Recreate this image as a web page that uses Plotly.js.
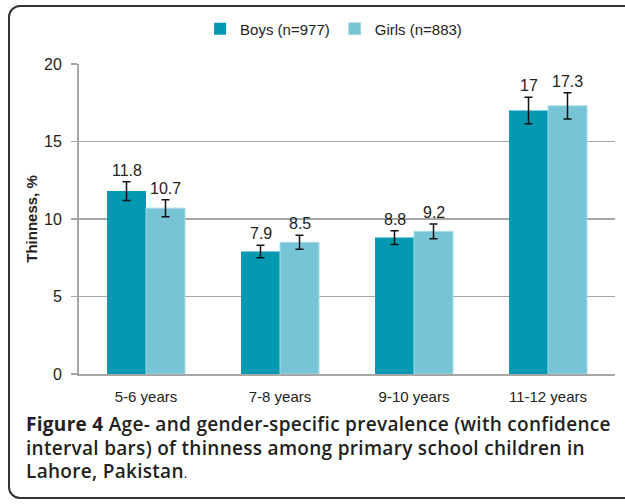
<!DOCTYPE html>
<html>
<head>
<meta charset="utf-8">
<script src="https://cdn.plot.ly/plotly-3.0.1.min.js"></script>
<style>
  html, body { margin: 0; padding: 0; background: #fff; overflow: hidden; }
  #wrap { position: relative; width: 625px; height: 504px; }
  #frame { position: absolute; left: 8px; top: 5px; width: 640px; height: 494px;
           border: 2px solid #333; border-radius: 12px; box-sizing: border-box; }
  #chart { position: absolute; left: 0; top: 0; width: 625px; height: 504px; }
  #caption { position: absolute; left: 26px; top: 413px; width: 600px;
             font-family: "Open Sans", "Noto Sans", sans-serif; font-size: 19px; font-weight: 600;
             line-height: 23.5px; letter-spacing: 0.3px; color: #231f20; white-space: nowrap; }
  #caption b { font-weight: 700; }
  #caption .dot { font-size: 13px; font-weight: 400; }
</style>
</head>
<body>
<div id="wrap">
  <div id="frame"></div>
  <div id="chart"></div>
  <div id="caption"><b>Figure 4</b> Age- and gender-specific prevalence (with confidence<br>interval bars) of thinness among primary school children in<br>Lahore, Pakistan<span class="dot">.</span></div>
</div>
<script>
const categories = ["5-6 years", "7-8 years", "9-10 years", "11-12 years"];
const boysName = "Boys (n=977)";
const girlsName = "Girls (n=883)";
const boysValues = [11.8, 7.9, 8.8, 17];
const girlsValues = [10.7, 8.5, 9.2, 17.3];
const boysCI = [0.6, 0.4, 0.45, 0.85];
const girlsCI = [0.55, 0.45, 0.47, 0.85];
const yTicks = [0, 5, 10, 15, 20];

const sans = '"Liberation Sans", Arial, sans-serif';
const boysColor = '#0399b1';
const girlsColor = '#78c4d7';

const errStyle = { type: 'data', visible: true, color: '#111', thickness: 1.5, width: 4 };

const traces = [
  { type: 'bar', name: boysName, x: categories, y: boysValues,
    marker: { color: boysColor, line: { color: boysColor, width: 0 } },
    error_y: Object.assign({ array: boysCI }, errStyle), hoverinfo: 'y' },
  { type: 'bar', name: girlsName, x: categories, y: girlsValues,
    marker: { color: girlsColor, line: { color: '#a6dbe8', width: 1 } },
    error_y: Object.assign({ array: girlsCI }, errStyle), hoverinfo: 'y' }
];

const annotations = [];
const half = 19.5;
categories.forEach((c, i) => {
  annotations.push({ x: c, y: boysValues[i] + boysCI[i], xref: 'x', yref: 'y',
    text: String(boysValues[i]), showarrow: false, yanchor: 'bottom', xshift: -half, yshift: 1,
    font: { family: sans, size: 16, color: '#222' } });
  annotations.push({ x: c, y: girlsValues[i] + girlsCI[i], xref: 'x', yref: 'y',
    text: String(girlsValues[i]), showarrow: false, yanchor: 'bottom', xshift: half, yshift: 1,
    font: { family: sans, size: 16, color: '#222' } });
});

const layout = {
  width: 625, height: 504,
  margin: { l: 79, r: 10, t: 64, b: 130, autoexpand: false },
  paper_bgcolor: 'rgba(0,0,0,0)', plot_bgcolor: 'rgba(0,0,0,0)',
  barmode: 'group', bargap: 0.418, bargroupgap: 0,
  showlegend: true,
  legend: { orientation: 'h', x: 0.475, xanchor: 'center', y: 1.06, yanchor: 'bottom',
            font: { family: sans, size: 15, color: '#222' }, itemwidth: 30,
            traceorder: 'normal' },
  xaxis: { type: 'category', showgrid: false, showline: true, linecolor: '#a6a6a6', linewidth: 2,
           ticks: '', ticklabelstandoff: 8, automargin: false,
           tickfont: { family: sans, size: 15, color: '#222' } },
  yaxis: { range: [0, 20], tickvals: yTicks, showgrid: true, gridcolor: '#a6a6a6', gridwidth: 1.5,
           showline: true, linecolor: '#a6a6a6', linewidth: 2, zeroline: false, automargin: false,
           ticks: 'outside', ticklen: 6, tickcolor: '#a6a6a6', tickwidth: 1.5, ticklabelstandoff: 6,
           tickfont: { family: sans, size: 16, color: '#222' },
           title: { text: '<b>Thinness, %</b>', standoff: 3,
                    font: { family: sans, size: 15, color: '#222' } } },
  annotations: annotations
};

Plotly.newPlot('chart', traces, layout, { displayModeBar: false, staticPlot: true });
</script>
</body>
</html>
